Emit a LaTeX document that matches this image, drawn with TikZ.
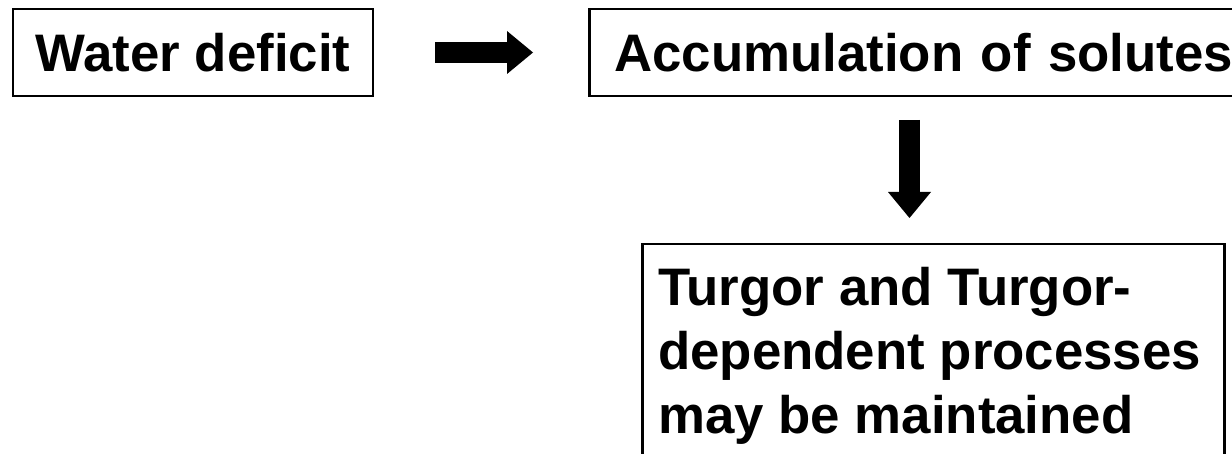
\documentclass[tikz,border=0pt]{standalone}
\usepackage{fontspec}
\setmainfont{Liberation Sans}
\usetikzlibrary{arrows.meta}
\tikzset{
  boxfont/.style={font=\fontsize{52.8}{64}\selectfont\bfseries},
  box/.style={draw=black, line width=2.5pt, boxfont, inner sep=0pt},
  fatarrow/.style={line width=21.5pt, -{Triangle[length=26pt,width=43pt,line width=0pt]}},
}
\begin{document}
\begin{tikzpicture}[x=1pt,y=-1pt]
\useasboundingbox (0,0) rectangle (1232,454);
\node[box, minimum width=360pt, minimum height=87pt] (wd) at (193,52.5) {Water deficit};
\node[box, anchor=west, inner xsep=25pt, text width=660pt, align=left, minimum height=87pt] (acc) at (588,52.5) {Accumulation of solutes};
\node[box, anchor=north west, minimum width=582pt, minimum height=260pt] (tb) at (641,243) {};
\node[boxfont, align=left, anchor=north west, inner sep=0pt] (tt) at (658,267) {Turgor and Turgor-\\dependent processes\\may be maintained};
\coordinate (r1) at ([xshift=61pt]wd.east);
\coordinate (r2) at ([xshift=-55pt]acc.west);
\coordinate (d1) at (909.5,120);
\coordinate (d2) at (909.5,218);
\draw[fatarrow] (r1) -- (r2);
\draw[fatarrow] (d1) -- (d2);
\end{tikzpicture}
\end{document}
